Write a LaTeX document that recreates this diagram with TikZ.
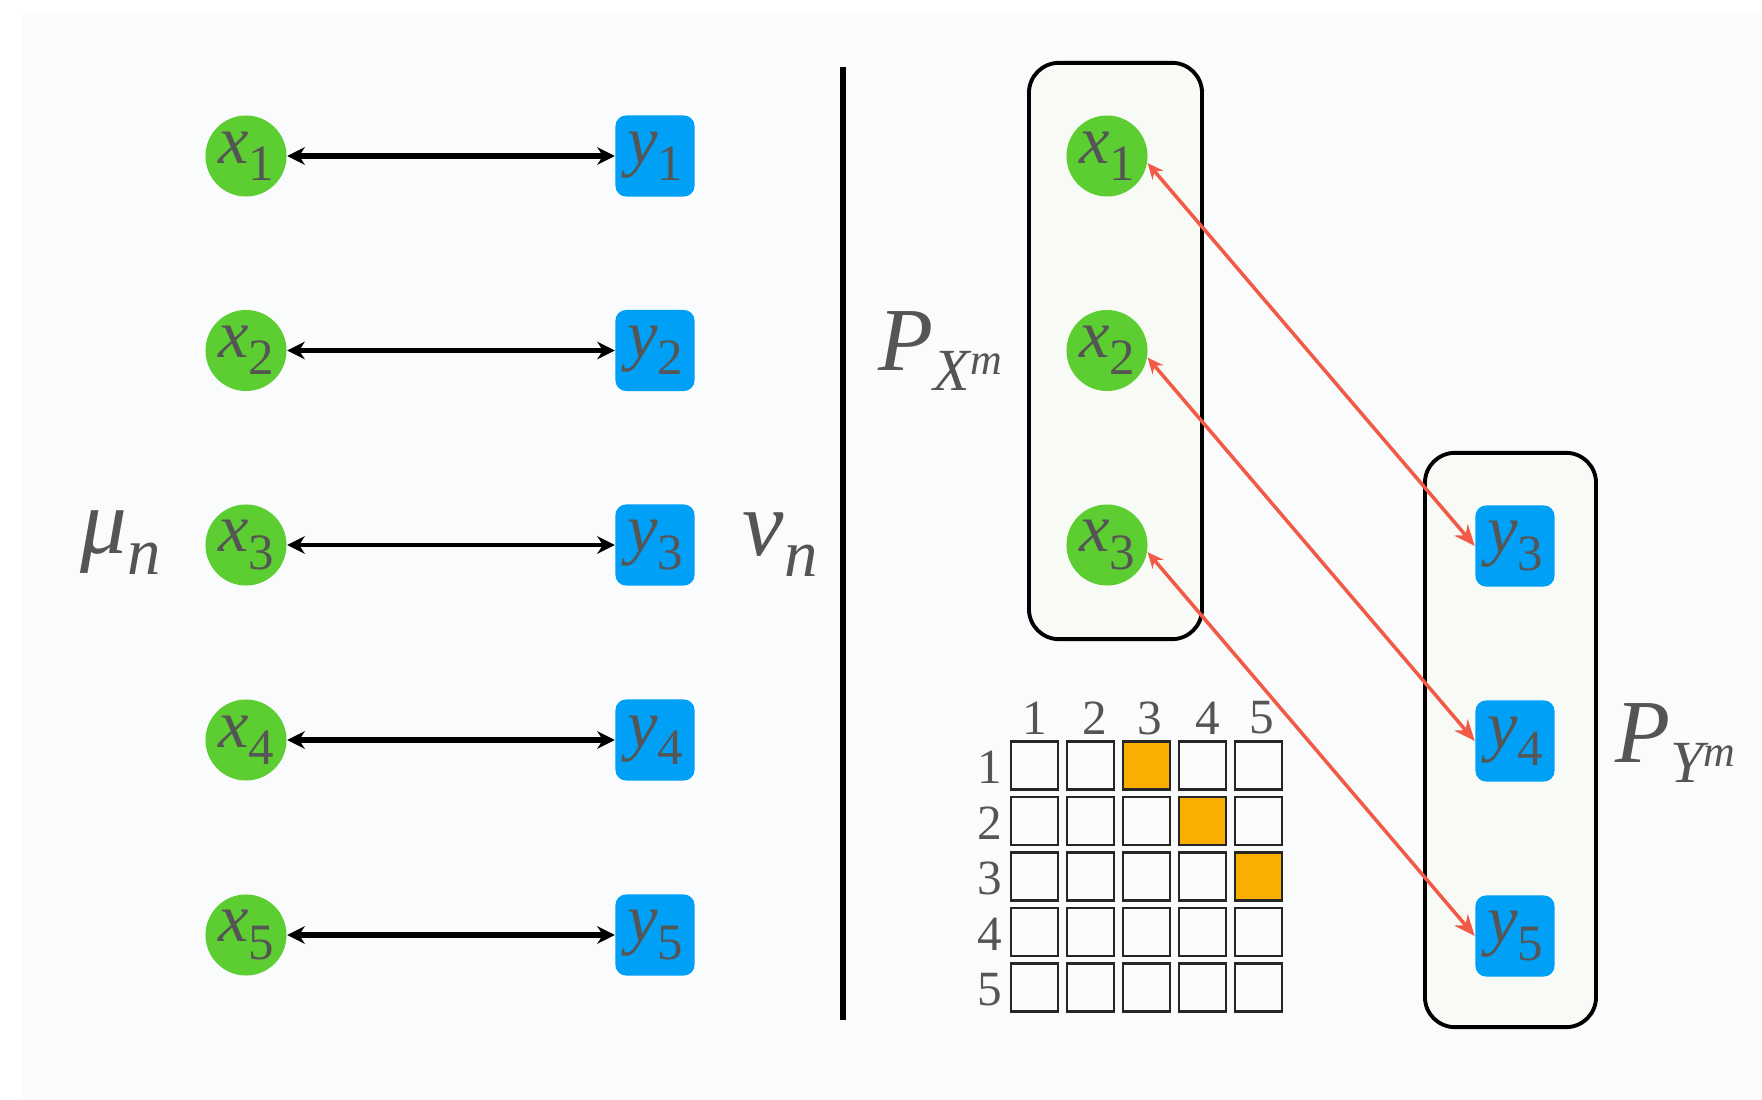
\documentclass[tikz,border=0pt]{standalone}
\usepackage{fontspec}
\setmainfont{Liberation Serif}
\usetikzlibrary{arrows.meta}
\definecolor{txt}{HTML}{555555}
\definecolor{gfill}{HTML}{5CCE32}
\definecolor{bfill}{HTML}{00A0F6}
\definecolor{rarrow}{HTML}{F25A48}
\definecolor{ofill}{HTML}{F9AE00}
\definecolor{panel}{HTML}{F9FBFC}
\definecolor{boxfill}{HTML}{F8FAF6}
\newcommand{\varsub}[2]{{\fontsize{19.5}{20}\selectfont\itshape #1}\raisebox{-4.9pt}{\fontsize{14.5}{15}\selectfont #2}}
\newcommand{\biglbl}[2]{{\fontsize{26.5}{27}\selectfont\itshape #1}\raisebox{-6pt}{\fontsize{19}{20}\selectfont\itshape #2}}
\newcommand{\plbl}[1]{{\fontsize{25.6}{27}\selectfont\itshape P}\raisebox{-5.7pt}{{\fontsize{17}{18}\selectfont\itshape #1}\raisebox{4.3pt}{\fontsize{12.5}{14}\selectfont\itshape m}}}
\begin{document}
\begin{tikzpicture}[x=0.01cm,y=-0.01cm,
  xnode/.style={circle,fill=gfill,inner sep=0pt,minimum size=0.81cm,text=txt},
  ynode/.style={rectangle,rounded corners=3pt,fill=bfill,inner sep=0pt,minimum width=0.79cm,minimum height=0.81cm,text=txt},
  groupbox/.style={draw=black,line width=1.1pt,rounded corners=0.3cm,fill=boxfill,inner sep=0pt},
  cellbox/.style={draw=black!85,line width=0.7pt,fill=white!60!boxfill,minimum width=0.47cm,minimum height=0.48cm,inner sep=0pt},
  hitcell/.style={cellbox,fill=ofill},
  gridnum/.style={text=txt,font=\fontsize{14}{15}\selectfont,inner sep=0pt},
  bigtxt/.style={text=txt,inner sep=0pt},
  blackarrow/.style={{Stealth[length=5pt,width=5pt]}-{Stealth[length=5pt,width=5pt]},black},
  redarrow/.style={{Stealth[length=4.5pt,width=4pt]}-{Stealth[length=6pt,width=5pt]},rarrow,line width=1pt}]
\useasboundingbox (0,0) rectangle (1762,1100);
\fill[white] (0,0) rectangle (1762,1100);
\fill[panel] (22,13) rectangle (1762,1100);

% left column
\foreach \i/\yy in {1/156,2/350.5,3/545,4/740,5/935}{
  \node[xnode] (lx\i) at (246,\yy) {\varsub{x}{\i}};
  \node[ynode] (ly\i) at (655,\yy) {\varsub{y}{\i}};
}
\draw[blackarrow,line width=1.9pt] (lx1) -- (ly1);
\draw[blackarrow,line width=1.5pt] (lx2) -- (ly2);
\draw[blackarrow,line width=1.2pt] (lx3) -- (ly3);
\draw[blackarrow,line width=1.9pt] (lx4) -- (ly4);
\draw[blackarrow,line width=1.6pt] (lx5) -- (ly5);

\node[bigtxt,anchor=base west] (mu) at (80,553) {\biglbl{μ}{n}};
\node[bigtxt,anchor=base west] (nu) at (742,555) {\biglbl{ν}{n}};

% divider
\coordinate (dtop) at (843,67);
\coordinate (dbot) at (843,1020);
\draw[line width=1.5pt] (dtop) -- (dbot);

% group boxes
\node[groupbox,minimum width=1.73cm,minimum height=5.76cm] (PX) at (1115.5,351) {};
\node[groupbox,minimum width=1.71cm,minimum height=5.74cm] (PY) at (1510.5,740) {};
\node[bigtxt,anchor=base west] (pxl) at (878,370) {\plbl{X}};
\node[bigtxt,anchor=base west] (pyl) at (1615,762) {\plbl{Y}};

% right nodes
\node[xnode] (rx1) at (1107,156) {\varsub{x}{1}};
\node[xnode] (rx2) at (1107,350.5) {\varsub{x}{2}};
\node[xnode] (rx3) at (1107,545) {\varsub{x}{3}};
\node[ynode] (ry3) at (1515,546) {\varsub{y}{3}};
\node[ynode] (ry4) at (1515,741) {\varsub{y}{4}};
\node[ynode] (ry5) at (1515,936) {\varsub{y}{5}};

% grid
\foreach \r in {1,...,5}{
  \foreach \c in {1,...,5}{
    \node[cellbox] (c\r\c) at ({1034.7+56*(\c-1)},{765.5+55.5*(\r-1)}) {};
  }
}
\node[hitcell] (h13) at (c13) {};
\node[hitcell] (h24) at (c24) {};
\node[hitcell] (h35) at (c35) {};
\foreach \c/\dx in {1/0,2/4,3/3,4/5,5/3}{
  \node[gridnum] (col\c) at ({1034.7+56*(\c-1)+\dx},718) {\c};
}
\foreach \r in {1,...,5}{
  \node[gridnum] (row\r) at (990,{765.5+55.5*(\r-1)+2}) {\r};
}

% red arrows
\draw[redarrow] (rx1.-10) -- (ry3.west);
\draw[redarrow] (rx2.-10) -- (ry4.west);
\draw[redarrow] (rx3.-10) -- (ry5.west);
\end{tikzpicture}
\end{document}
